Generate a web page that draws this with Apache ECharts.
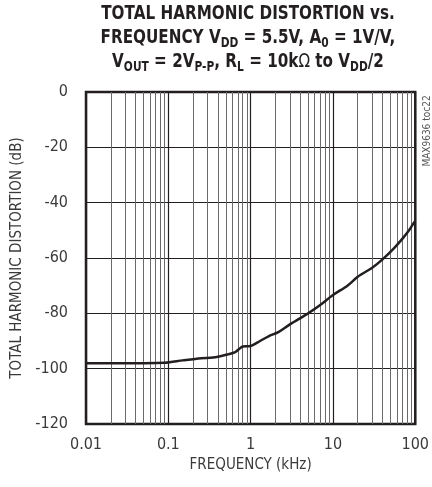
<!DOCTYPE html>
<html>
<head>
<meta charset="utf-8">
<script src="https://cdn.jsdelivr.net/npm/echarts@6/dist/echarts.min.js"></script>
<style>
html, body { margin: 0; padding: 0; background: #fff; }
#chart { width: 432px; height: 487px; }
</style>
</head>
<body>
<div id="chart"></div>
<script>
// THD vs frequency
var freqKHz = [0.01, 0.02, 0.05, 0.09, 0.15, 0.25, 0.35, 0.5, 0.65, 0.75, 0.8, 1.0, 1.3, 1.65, 2.2, 3, 5, 7, 10, 15, 20, 30, 40, 55, 70, 84, 100];
var thdDb = [-98, -98, -98, -97.9, -97, -96.2, -96, -95, -94, -92.5, -92, -91.8, -90, -88.3, -86.7, -84, -80, -77, -73.4, -70, -66.8, -63.5, -60.5, -56.5, -53, -50, -46.5];
var xTickLabels = ['0.01', '0.1', '1', '10', '100'];
var yTickLabels = ['-120', '-100', '-80', '-60', '-40', '-20', '0'];

var FONT = '"DejaVu Sans Condensed", "Liberation Sans", Arial, sans-serif';
var TXT = '#3a3a3a';

var pts = freqKHz.map(function(f, i) { return [f, thdDb[i]]; });

// log grid lines between decades
var minorLines = [];
[0.01, 0.1, 1, 10].forEach(function(d) {
	for (var k = 2; k <= 9; k++) minorLines.push({ xAxis: +(d * k).toPrecision(3) });
});

var chart = echarts.init(document.getElementById('chart'));

chart.setOption({
	animation: false,
	grid: {
		left: 86, right: 14, top: 92, bottom: 63,
		show: true,
		borderColor: '#231f20',
		borderWidth: 2.5,
		backgroundColor: 'transparent'
	},
	graphic: [{
		// title: wide bold face squeezed to look like a condensed heavy font
		type: 'text',
		x: 248, y: 2,
		scaleX: 0.76,
		style: {
			text: 'TOTAL HARMONIC DISTORTION vs.\nFREQUENCY V{s|DD} = 5.5V, A{s|0} = 1V/V,\nV{s|OUT} = 2V{s|P-P}, R{s|L} = 10k{o|Ω} to V{s|DD}/2',
			align: 'center',
			verticalAlign: 'top',
			font: 'bold 20px "DejaVu Sans", sans-serif',
			fill: '#231f20',
			lineHeight: 24,
			rich: {
				s: { fontSize: 14, fontWeight: 'bold', fontFamily: '"DejaVu Sans", sans-serif', verticalAlign: 'bottom', lineHeight: 19 },
				o: { fontSize: 20, fontWeight: 'normal', fontFamily: '"DejaVu Sans", sans-serif' }
			}
		}
	}, {
		type: 'text',
		x: 427, y: 131,
		rotation: Math.PI / 2,
		style: {
			text: 'MAX9636 toc22',
			align: 'center',
			verticalAlign: 'middle',
			font: '10px ' + FONT,
			fill: '#555'
		}
	}],
	xAxis: {
		type: 'log',
		logBase: 10,
		min: 0.01,
		max: 100,
		name: 'FREQUENCY (kHz)',
		nameLocation: 'middle',
		nameGap: 33,
		nameTextStyle: { fontFamily: FONT, fontSize: 15, color: TXT },
		axisLine: { show: false },
		axisTick: { show: false },
		axisLabel: {
			margin: 13,
			fontFamily: FONT, fontSize: 16, color: TXT,
			formatter: function(v, i) { return xTickLabels[i]; }
		},
		splitLine: { show: true, lineStyle: { color: '#231f20', width: 1.2 } }
	},
	yAxis: {
		type: 'value',
		min: -120,
		max: 0,
		interval: 20,
		name: 'TOTAL HARMONIC DISTORTION (dB)',
		nameLocation: 'middle',
		nameRotate: 90,
		nameGap: 56,
		nameTextStyle: { fontFamily: FONT, fontSize: 15, color: TXT },
		axisLine: { show: false },
		axisTick: { show: false },
		axisLabel: {
			margin: 18,
			fontFamily: FONT, fontSize: 16, color: TXT,
			formatter: function(v, i) { return yTickLabels[i]; }
		},
		splitLine: { show: true, lineStyle: { color: '#231f20', width: 1 } }
	},
	series: [{
		type: 'line',
		data: pts,
		smooth: 0.3,
		showSymbol: false,
		lineStyle: { color: '#231f20', width: 2.5 },
		markLine: {
			silent: true,
			symbol: 'none',
			label: { show: false },
			lineStyle: { color: '#6a6a6a', width: 1, type: 'solid' },
			data: minorLines
		},
		z: 5
	}]
});
</script>
</body>
</html>
